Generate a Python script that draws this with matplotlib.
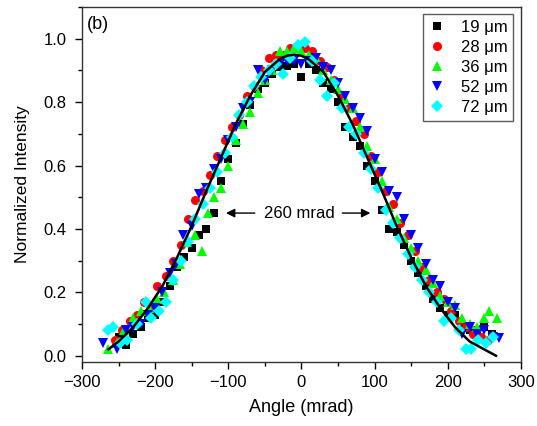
import matplotlib
matplotlib.use("Agg")
import matplotlib.pyplot as plt
from matplotlib.ticker import MultipleLocator

plt.rcParams['font.family'] = ['Liberation Sans', 'DejaVu Sans']
plt.rcParams['axes.unicode_minus'] = True

# ---------------- data ----------------
x_19 = [-250, -240, -230, -220, -210, -200, -190, -180, -170, -160, -150, -140, -130, -120,
        -110, -100, -90, -80, -70, -60, -50, -40, -30, -20, -10, 0, 10, 20, 30, 40, 50, 60,
        70, 80, 90, 100, 110, 120, 130, 140, 150, 160, 170, 180, 190, 200, 210, 220, 230,
        240, 250, 260]
y_19 = [0.06, 0.035, 0.07, 0.09, 0.12, 0.13, 0.17, 0.22, 0.28, 0.31, 0.34, 0.38, 0.40, 0.45,
        0.55, 0.62, 0.67, 0.73, 0.79, 0.84, 0.86, 0.89, 0.91, 0.915, 0.92, 0.88, 0.92, 0.90,
        0.86, 0.84, 0.80, 0.72, 0.69, 0.66, 0.60, 0.55, 0.46, 0.40, 0.39, 0.35, 0.30, 0.26,
        0.22, 0.18, 0.15, 0.13, 0.13, 0.09, 0.08, 0.08, 0.09, 0.07]

x_28 = [-255, -245, -235, -225, -215, -205, -197, -185, -175, -165, -155, -145, -135, -125,
        -115, -105, -95, -85, -75, -65, -55, -45, -35, -25, -15, -5, 5, 15, 25, 35, 45, 55,
        65, 75, 85, 95, 105, 115, 125, 135, 145, 155, 165, 175, 185, 195, 205, 215, 225,
        235, 245, 255]
y_28 = [0.05, 0.08, 0.11, 0.13, 0.17, 0.16, 0.22, 0.25, 0.30, 0.35, 0.43, 0.49, 0.52, 0.57,
        0.63, 0.68, 0.72, 0.76, 0.82, 0.85, 0.90, 0.94, 0.95, 0.95, 0.97, 0.98, 0.97, 0.96,
        0.93, 0.91, 0.87, 0.82, 0.78, 0.74, 0.70, 0.63, 0.58, 0.52, 0.48, 0.42, 0.38, 0.33,
        0.28, 0.24, 0.20, 0.18, 0.14, 0.11, 0.09, 0.07, 0.06, 0.05]

x_36 = [-265, -252, -242, -230, -220, -208, -198, -188, -176, -166, -156, -146, -136, -128,
        -120, -110, -100, -90, -80, -70, -60, -50, -40, -30, -20, -10, 0, 10, 20, 30, 40,
        50, 60, 70, 80, 90, 100, 110, 120, 130, 140, 150, 160, 170, 180, 190, 200, 210, 220,
        230, 240, 250, 257, 268]
y_36 = [0.02, 0.04, 0.08, 0.12, 0.14, 0.15, 0.18, 0.20, 0.24, 0.29, 0.36, 0.38, 0.33, 0.45,
        0.50, 0.53, 0.60, 0.68, 0.73, 0.77, 0.83, 0.87, 0.90, 0.96, 0.96, 0.97, 0.96, 0.95,
        0.94, 0.90, 0.87, 0.84, 0.81, 0.78, 0.72, 0.66, 0.62, 0.55, 0.47, 0.43, 0.37, 0.34,
        0.30, 0.27, 0.23, 0.19, 0.17, 0.16, 0.12, 0.10, 0.09, 0.12, 0.14, 0.12]

x_52 = [-271, -252, -240, -230, -220, -210, -200, -190, -180, -172, -162, -150, -140, -130,
        -120, -110, -100, -90, -80, -70, -60, -50, -40, -30, -20, -10, 0, 10, 20, 30, 40,
        50, 60, 70, 80, 90, 100, 110, 120, 130, 140, 150, 160, 170, 180, 190, 200, 210, 220,
        230, 240, 250, 262, 270]
y_52 = [0.04, 0.02, 0.08, 0.09, 0.10, 0.13, 0.15, 0.20, 0.26, 0.29, 0.38, 0.41, 0.51, 0.53,
        0.59, 0.62, 0.68, 0.72, 0.78, 0.80, 0.90, 0.87, 0.90, 0.92, 0.93, 0.93, 0.92, 0.93,
        0.94, 0.91, 0.90, 0.86, 0.82, 0.78, 0.75, 0.71, 0.62, 0.58, 0.52, 0.50, 0.43, 0.38,
        0.34, 0.29, 0.24, 0.22, 0.17, 0.15, 0.07, 0.09, 0.07, 0.08, 0.06, 0.055]

x_72 = [-264, -257, -248, -238, -225, -212, -205, -195, -185, -175, -165, -155, -145, -135,
        -125, -115, -105, -95, -85, -75, -65, -55, -45, -35, -25, -15, -5, 5, 15, 25, 35,
        45, 55, 65, 75, 85, 95, 105, 115, 125, 135, 145, 155, 165, 175, 185, 195, 205, 215,
        225, 232, 242, 252, 262]
y_72 = [0.08, 0.09, 0.04, 0.05, 0.10, 0.17, 0.12, 0.14, 0.17, 0.24, 0.30, 0.36, 0.43, 0.48,
        0.53, 0.58, 0.64, 0.69, 0.76, 0.80, 0.85, 0.88, 0.90, 0.92, 0.89, 0.94, 0.98, 0.99,
        0.93, 0.87, 0.82, 0.86, 0.78, 0.72, 0.70, 0.64, 0.59, 0.53, 0.46, 0.42, 0.37, 0.32,
        0.28, 0.24, 0.20, 0.17, 0.11, 0.12, 0.08, 0.02, 0.02, 0.05, 0.04, 0.06]

fit_x = [-264, -250, -230, -210, -190, -170, -150, -130, -110, -90, -70, -50, -30, -20, -10,
         0, 10, 30, 50, 70, 90, 110, 130, 150, 170, 190, 210, 230, 250, 266]
fit_y = [0.02, 0.045, 0.09, 0.15, 0.22, 0.31, 0.41, 0.52, 0.625, 0.73, 0.82, 0.895, 0.935,
         0.946, 0.95, 0.946, 0.935, 0.895, 0.82, 0.73, 0.625, 0.52, 0.41, 0.31, 0.22, 0.15,
         0.09, 0.045, 0.02, 0.0]

series_labels = ["19 \u03bcm", "28 \u03bcm", "36 \u03bcm", "52 \u03bcm", "72 \u03bcm"]

# ---------------- plot ----------------
fig = plt.figure(figsize=(5.37, 4.26), dpi=100)
ax = fig.add_axes([0.1527, 0.150, 0.8173, 0.8336])

styles = [("s", "black", 6.0), ("o", "#ff0000", 6.5), ("^", "#00ff00", 7.5),
          ("v", "#0000ff", 7.5), ("D", "#00ffff", 6.3)]
data = [(x_19, y_19), (x_28, y_28), (x_36, y_36), (x_52, y_52), (x_72, y_72)]
for (xs, ys), (m, c, ms), lab in zip(data, styles, series_labels):
    ax.plot(xs, ys, linestyle="none", marker=m, color=c, markersize=ms,
            markeredgewidth=0, label=lab)

ax.plot(fit_x, fit_y, color="black", linewidth=1.8, zorder=5)

ax.set_xlim(-300, 300)
ax.set_ylim(-0.02, 1.1)
ax.xaxis.set_major_locator(MultipleLocator(100))
ax.xaxis.set_minor_locator(MultipleLocator(50))
ax.yaxis.set_minor_locator(MultipleLocator(0.1))
ax.set_yticks([0.0, 0.2, 0.4, 0.6, 0.8, 1.0])
ax.set_yticklabels(["0.0", "0.2", "0.4", "0.6", "0.8", "1.0"])
ax.tick_params(which="major", direction="out", length=5, width=1, labelsize=12,
               top=False, right=False, pad=4)
ax.tick_params(axis="y", which="major", pad=6)
ax.tick_params(which="minor", direction="out", length=3, width=1, top=False, right=False)
for sp in ax.spines.values():
    sp.set_linewidth(1.0)
    sp.set_color("#333333")

ax.set_xlabel("Angle (mrad)", fontsize=13, labelpad=7)
ax.set_ylabel("Normalized Intensity", fontsize=12.5, labelpad=10)

ax.text(0.012, 0.975, "(b)", transform=ax.transAxes, fontsize=13, va="top", ha="left")

ax.text(-3, 0.45, "260 mrad", fontsize=12, ha="center", va="center")
ax.annotate("", xy=(-107, 0.45), xytext=(-60, 0.45),
            arrowprops=dict(arrowstyle="-|>", color="black", lw=1, mutation_scale=13))
ax.annotate("", xy=(98, 0.45), xytext=(52, 0.45),
            arrowprops=dict(arrowstyle="-|>", color="black", lw=1, mutation_scale=13))

leg = ax.legend(loc="upper right", fontsize=12, frameon=True, fancybox=False,
                edgecolor="#333333", handlelength=1.0, handletextpad=0.9,
                borderpad=0.35, labelspacing=0.3, borderaxespad=0.45)
leg.get_frame().set_linewidth(1.0)

fig.savefig("out.png", dpi=100)
